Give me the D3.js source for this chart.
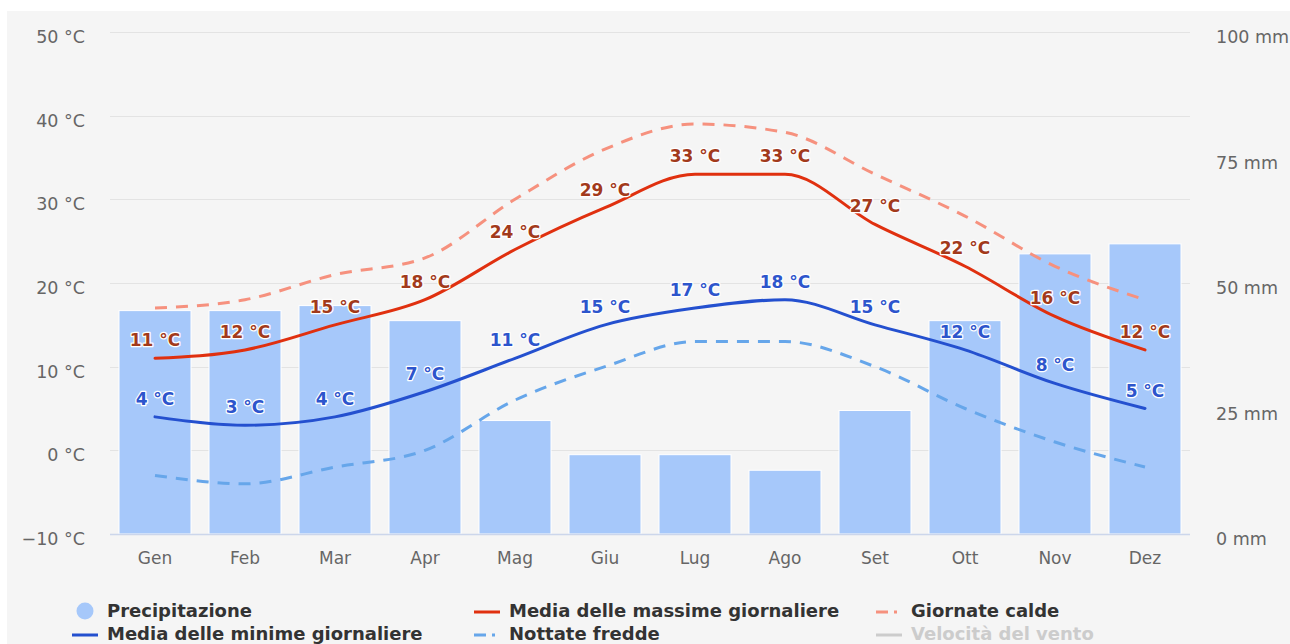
<!DOCTYPE html>
<html>
<head>
<meta charset="utf-8">
<script src="https://cdn.jsdelivr.net/npm/d3@7"></script>
<style>
html,body{margin:0;padding:0;background:#fff;}
svg{display:block;}
text{font-family:"DejaVu Sans",Verdana,sans-serif;}
</style>
</head>
<body>
<svg id="chart" width="1290" height="644"></svg>
<script>
const months = ["Gen","Feb","Mar","Apr","Mag","Giu","Lug","Ago","Set","Ott","Nov","Dez"];
const precipitation = [44.5,44.5,45.5,42.5,22.6,15.8,15.8,12.7,24.6,42.5,55.8,57.8];
const maxTemp = [11,12,15,18,24,29,33,33,27,22,16,12];
const minTemp = [4,3,4,7,11,15,17,18,15,12,8,5];
const warmDays = [17,18,21,23,30,36,39,38,33,28,22,18];
const coldNights = [-3,-4,-2,0,6,10,13,13,10,5,1,-2];
const tempTicks = [-10,0,10,20,30,40,50];
const precTicks = [0,25,50,75,100];
const legendItems = [
  {name:"Precipitazione", type:"circle", color:"#a6c8fa", col:0, row:0},
  {name:"Media delle massime giornaliere", type:"line", color:"#e0300f", col:1, row:0},
  {name:"Giornate calde", type:"dash", color:"#f6917e", col:2, row:0},
  {name:"Media delle minime giornaliere", type:"line", color:"#2450cf", col:0, row:1},
  {name:"Nottate fredde", type:"dash", color:"#66a6ea", col:1, row:1},
  {name:"Velocità del vento", type:"line", color:"#cccccc", col:2, row:1, hidden:true}
];

const svg = d3.select("#chart");
const W = 1290, H = 644;
const plot = {left:110, right:1190, top:32, bottom:534};

// background
svg.append("rect").attr("x",7).attr("y",11).attr("width",W-7).attr("height",H-11).attr("fill","#f5f5f5");

const x = d3.scaleBand().domain(months).range([plot.left, plot.right]).paddingInner(0.2).paddingOuter(0.1);
const xc = d => x(d) + x.bandwidth()/2;
const yT = d3.scaleLinear().domain([-10,50]).range([plot.bottom, plot.top]);
const yP = d3.scaleLinear().domain([0,100]).range([plot.bottom, plot.top]);

// gridlines
svg.append("g").selectAll("line").data(tempTicks.filter(t=>t>-10)).join("line")
  .attr("x1",plot.left).attr("x2",plot.right)
  .attr("y1",d=>Math.round(yT(d))+0.5).attr("y2",d=>Math.round(yT(d))+0.5)
  .attr("stroke","#e3e3e3").attr("stroke-width",1);

// left axis
const leftAxis = d3.axisLeft(yT).tickValues(tempTicks).tickSize(0).tickPadding(0).tickFormat(d => (d<0?"\u2212"+Math.abs(d):d) + " °C");
const gl = svg.append("g").attr("transform",`translate(${85},0)`).call(leftAxis);
gl.select(".domain").remove();
gl.selectAll("text").attr("font-size","17.5px").attr("fill","#666").attr("dy","0.6em").attr("text-anchor","end")
  .style("font-family","DejaVu Sans");

// right axis
const rightAxis = d3.axisRight(yP).tickValues(precTicks).tickSize(0).tickPadding(0).tickFormat(d => d + " mm");
const gr = svg.append("g").attr("transform",`translate(${1216},0)`).call(rightAxis);
gr.select(".domain").remove();
gr.selectAll("text").attr("font-size","17.5px").attr("fill","#666").attr("dy","0.6em")
  .style("font-family","DejaVu Sans");

// bars
svg.append("g").selectAll("rect").data(precipitation).join("rect")
  .attr("x",(d,i)=>x(months[i]))
  .attr("width",x.bandwidth())
  .attr("y",d=>yP(d))
  .attr("height",d=>yP(0)-yP(d))
  .attr("fill","#a6c8fa").attr("stroke","#ffffff").attr("stroke-width",1);

// x axis line
svg.append("line").attr("x1",plot.left).attr("x2",plot.right)
  .attr("y1",plot.bottom+0.5).attr("y2",plot.bottom+0.5).attr("stroke","#ccd6eb").attr("stroke-width",1.5);

// bottom axis labels
const bottomAxis = d3.axisBottom(x).tickSize(0).tickPadding(0);
const gb = svg.append("g").attr("transform",`translate(0,${551})`).call(bottomAxis);
gb.select(".domain").remove();
gb.selectAll("text").attr("font-size","17px").attr("fill","#666").attr("dy","0.75em")
  .style("font-family","DejaVu Sans");

const line = d3.line().x((d,i)=>xc(months[i])).y(d=>yT(d)).curve(d3.curveMonotoneX);

function drawLine(data, color, dashed){
  svg.append("path").datum(data).attr("d",line).attr("fill","none")
    .attr("stroke",color).attr("stroke-width",3)
    .attr("stroke-linecap", dashed ? "butt" : "round")
    .attr("stroke-dasharray", dashed ? "12,9" : null);
}
drawLine(coldNights,"#66a6ea",true);
drawLine(warmDays,"#f6917e",true);
drawLine(minTemp,"#2450cf",false);
drawLine(maxTemp,"#e0300f",false);

function drawLabels(data,color){
  svg.append("g").selectAll("text").data(data).join("text")
    .attr("x",(d,i)=>xc(months[i]))
    .attr("y",d=>yT(d)-12)
    .attr("text-anchor","middle")
    .attr("font-size","17px").attr("font-weight","bold")
    .attr("fill",color)
    .attr("stroke","#ffffff").attr("stroke-width",2.5).attr("stroke-linejoin","round")
    .attr("paint-order","stroke")
    .text(d=>d+" °C");
}
drawLabels(maxTemp,"#a23a1b");
drawLabels(minTemp,"#2d55cc");

// legend
const colX = [107, 509, 911];
const rowY = [611, 634];
const lg = svg.append("g");
legendItems.forEach(it=>{
  const tx = colX[it.col], cy = rowY[it.row];
  if(it.type==="circle"){
    lg.append("circle").attr("cx",tx-22).attr("cy",cy).attr("r",8.5).attr("fill",it.color);
  } else if(it.type==="line"){
    lg.append("line").attr("x1",tx-35).attr("x2",tx-9).attr("y1",cy+1).attr("y2",cy+1)
      .attr("stroke",it.color).attr("stroke-width",3);
  } else {
    lg.append("line").attr("x1",tx-35).attr("x2",tx-9).attr("y1",cy+1).attr("y2",cy+1)
      .attr("stroke",it.color).attr("stroke-width",3).attr("stroke-dasharray","12,6,3,20");
  }
  lg.append("text").attr("x",tx).attr("y",cy+6).attr("font-size","18px").attr("font-weight","bold")
    .attr("fill",it.hidden ? "#cccccc" : "#333333").text(it.name);
});
</script>
</body>
</html>
